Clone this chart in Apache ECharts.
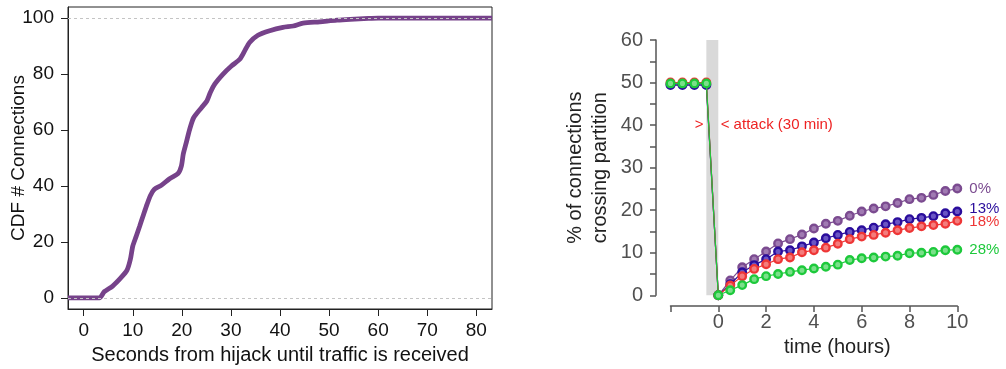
<!DOCTYPE html>
<html>
<head>
<meta charset="utf-8">
<script src="https://cdn.jsdelivr.net/npm/echarts@6/dist/echarts.min.js"></script>
<style>
  html, body { margin: 0; padding: 0; background: #fff; }
  #chart { width: 1006px; height: 369px; }
</style>
</head>
<body>
<div id="chart"></div>
<script>
// ---- Left panel: CDF of delay until hijacked traffic arrives ----
const cdfSeconds = [-3.2, 3.2, 4.2, 5.9, 7.6, 8.8, 9.5, 10.0, 10.7, 11.4, 12.2, 12.9, 13.6, 14.4, 15.8, 17.5, 19.2, 19.9, 20.3, 20.9, 21.6, 22.4, 24.0, 25.1, 25.8, 26.7, 28.4, 30.1, 31.8, 32.8, 33.8, 35.5, 37.9, 40.6, 42.7, 44.7, 48.1, 51.6, 54.3, 58.0, 60.0, 83.2];
const cdfPercent = [0, 0, 2.2, 4.2, 7.2, 9.8, 13.7, 18.5, 22.0, 25.6, 29.8, 33.4, 36.6, 38.8, 40.2, 42.6, 44.4, 47.1, 51.5, 55.5, 60.3, 64.4, 68.0, 70.4, 73.4, 76.4, 80.0, 82.9, 85.3, 88.3, 91.3, 93.9, 95.5, 96.7, 97.2, 98.2, 98.7, 99.3, 99.6, 99.9, 100, 100];
const cdfXTicks = [0, 10, 20, 30, 40, 50, 60, 70, 80];
const cdfYTicks = [0, 20, 40, 60, 80, 100];
const cdfGuides = [0, 100];

// ---- Right panel: share of connections crossing the partition over time ----
const hours = [-2, -1.5, -1, -0.5, 0, 0.5, 1, 1.5, 2, 2.5, 3, 3.5, 4, 4.5, 5, 5.5, 6, 6.5, 7, 7.5, 8, 8.5, 9, 9.5, 10];
const seriesNames = ['0%', '13%', '18%', '28%'];
const cross0 = [49.6, 49.6, 49.6, 49.6, 0, 3.5, 6.6, 8.5, 10.3, 12.2, 13.2, 14.3, 15.7, 16.8, 17.5, 18.7, 19.7, 20.4, 20.9, 21.7, 22.6, 22.9, 23.6, 24.5, 25.1];
const cross13 = [49.4, 49.4, 49.4, 49.4, 0, 2.6, 5.4, 7.1, 8.5, 10.3, 10.6, 11.5, 12.4, 13.4, 14.2, 14.9, 15.3, 15.9, 16.7, 17.2, 17.9, 18.2, 18.6, 19.3, 19.7];
const cross18 = [50.0, 50.0, 50.0, 50.0, 0, 2.3, 4.5, 6.2, 7.3, 8.5, 8.9, 10.1, 10.6, 11.2, 12.1, 13.2, 13.8, 14.2, 14.7, 15.3, 15.8, 16.2, 16.5, 16.8, 17.5];
const cross28 = [49.8, 49.8, 49.8, 49.8, 0, 1.2, 2.4, 3.8, 4.5, 5.0, 5.5, 5.9, 6.3, 6.7, 7.2, 8.3, 8.7, 8.9, 9.1, 9.3, 9.9, 10.0, 10.2, 10.6, 10.7];
const hourTicks = [-2, 0, 2, 4, 6, 8, 10];
const hourLabels = [0, 2, 4, 6, 8, 10];
const pctTicks = [0, 5, 10, 15, 20, 25, 30, 35, 40, 45, 50, 55, 60];
const pctLabels = [0, 10, 20, 30, 40, 50, 60];
const attackWindow = [-0.5, 0];
const attackNoteY = 40;
const attackOpen = '>';
const attackClose = '< attack (30 min)';

const FONT = '"Liberation Sans", Arial, Helvetica, sans-serif';
const lineColors = ['#7B4B90', '#2A0D9C', '#EE3636', '#1DC93B'];
const dotFill = ['#A07AB2', '#6A55C4', '#F47C7C', '#7BE08A'];
const endLabelNudge = [[0, 0], [0, -3], [0, 1], [0, 0]];

const crossSeries = [cross0, cross13, cross18, cross28];
const zip = (xs, ys) => xs.map((x, i) => [x, ys[i]]);

const chart = echarts.init(document.getElementById('chart'), null, { renderer: 'canvas' });

const option = {
  animation: false,
  backgroundColor: '#fff',
  textStyle: { fontFamily: FONT },
  grid: [
    { left: 68, top: 7, width: 424, height: 302, show: true, borderColor: '#222', borderWidth: 1, backgroundColor: 'transparent', containLabel: false, outerBoundsMode: 'none' },
    { left: 670.5, top: 40, width: 286.8, height: 255.3, show: false, containLabel: false, outerBoundsMode: 'none' }
  ],
  xAxis: [
    {
      gridIndex: 0, type: 'value', min: -3.2, max: 83.2,
      axisLine: { show: true, onZero: false, lineStyle: { color: '#222', width: 1 } },
      axisTick: { show: true, length: 7, inside: false, customValues: cdfXTicks, lineStyle: { color: '#222', width: 1 } },
      axisLabel: { customValues: cdfXTicks, fontSize: 19, color: '#111', margin: 12, fontFamily: FONT },
      splitLine: { show: false },
      name: 'Seconds from hijack until traffic is received',
      nameLocation: 'middle', nameGap: 36, nameMoveOverlap: false,
      nameTextStyle: { fontSize: 20, color: '#111', fontFamily: FONT }
    },
    {
      gridIndex: 1, type: 'value', min: -2, max: 10, offset: 10.7,
      axisLine: { show: true, onZero: false, lineStyle: { color: '#555', width: 1.5 } },
      axisTick: { show: true, length: 6, customValues: hourTicks, lineStyle: { color: '#555', width: 1.5 } },
      axisLabel: { customValues: hourLabels, fontSize: 20, color: '#505050', margin: 6, fontFamily: FONT },
      splitLine: { show: false }
    }
  ],
  yAxis: [
    {
      gridIndex: 0, type: 'value', min: -4, max: 104,
      axisLine: { show: true, onZero: false, lineStyle: { color: '#222', width: 1 } },
      axisTick: { show: true, length: 7, inside: false, customValues: cdfYTicks, lineStyle: { color: '#222', width: 1 } },
      axisLabel: { customValues: cdfYTicks, fontSize: 19, color: '#111', margin: 14, fontFamily: FONT },
      splitLine: { show: false },
      name: 'CDF # Connections',
      nameLocation: 'middle', nameGap: 40, nameRotate: 90, nameMoveOverlap: false,
      nameTextStyle: { fontSize: 19, color: '#111', fontFamily: FONT }
    },
    {
      gridIndex: 1, type: 'value', min: 0, max: 60, offset: 14.5,
      axisLine: { show: true, onZero: false, lineStyle: { color: '#555', width: 1.5 } },
      axisTick: { show: true, length: 6, customValues: pctTicks, lineStyle: { color: '#555', width: 1.5 } },
      axisLabel: { customValues: pctLabels, fontSize: 20, color: '#505050', margin: 13, fontFamily: FONT },
      splitLine: { show: false },
      name: '% of connections\ncrossing partition',
      nameLocation: 'middle', nameGap: 43, nameRotate: 90, nameMoveOverlap: false,
      nameTextStyle: { fontSize: 20, lineHeight: 25, color: '#222', fontFamily: FONT, align: 'center' }
    }
  ],
  series: [
    {
      type: 'line', xAxisIndex: 0, yAxisIndex: 0,
      data: zip(cdfSeconds, cdfPercent),
      showSymbol: false, smooth: 0.25,
      lineStyle: { color: '#76428A', width: 4.8 },
      z: 2
    },
    {
      // dashed reference lines at 0 % and 100 %, drawn over the curve
      type: 'line', xAxisIndex: 0, yAxisIndex: 0, data: [], z: 5,
      markLine: {
        silent: true, symbol: ['none', 'none'], label: { show: false },
        lineStyle: { color: '#c4c4c4', type: [3, 3], width: 1 },
        data: cdfGuides.map(v => ({ yAxis: v }))
      }
    },
    {
      // attack window shading and annotation
      type: 'line', xAxisIndex: 1, yAxisIndex: 1, data: [], z: 1,
      markArea: {
        silent: true,
        itemStyle: { color: '#d9d9d9' },
        data: [[{ xAxis: attackWindow[0] }, { xAxis: attackWindow[1] }]]
      },
      markPoint: {
        silent: true, symbol: 'circle', symbolSize: 0,
        label: { show: true, color: '#EE2222', fontSize: 15, fontFamily: FONT, distance: 0 },
        data: [
          { coord: [-0.62, attackNoteY], label: { formatter: attackOpen, position: 'left' } },
          { coord: [0.1, attackNoteY], label: { formatter: attackClose, position: 'right' } }
        ]
      }
    }
  ].concat(crossSeries.map((vals, i) => ({
    type: 'line', xAxisIndex: 1, yAxisIndex: 1,
    name: seriesNames[i],
    data: zip(hours, vals),
    clip: false,
    symbol: 'circle', symbolSize: 7.5,
    itemStyle: { color: dotFill[i], borderColor: lineColors[i], borderWidth: 2.4 },
    lineStyle: { color: lineColors[i], width: 1.2 },
    z: 3 + i,
    endLabel: {
      show: true, formatter: '{a}', color: lineColors[i], fontSize: 15,
      fontFamily: FONT, distance: 12, offset: endLabelNudge[i]
    }
  }))),
  graphic: [
    {
      type: 'text', left: 784, top: 337,
      style: { text: 'time (hours)', fontSize: 20, fontFamily: FONT, fill: '#222' }
    }
  ]
};

chart.setOption(option);
</script>
</body>
</html>
